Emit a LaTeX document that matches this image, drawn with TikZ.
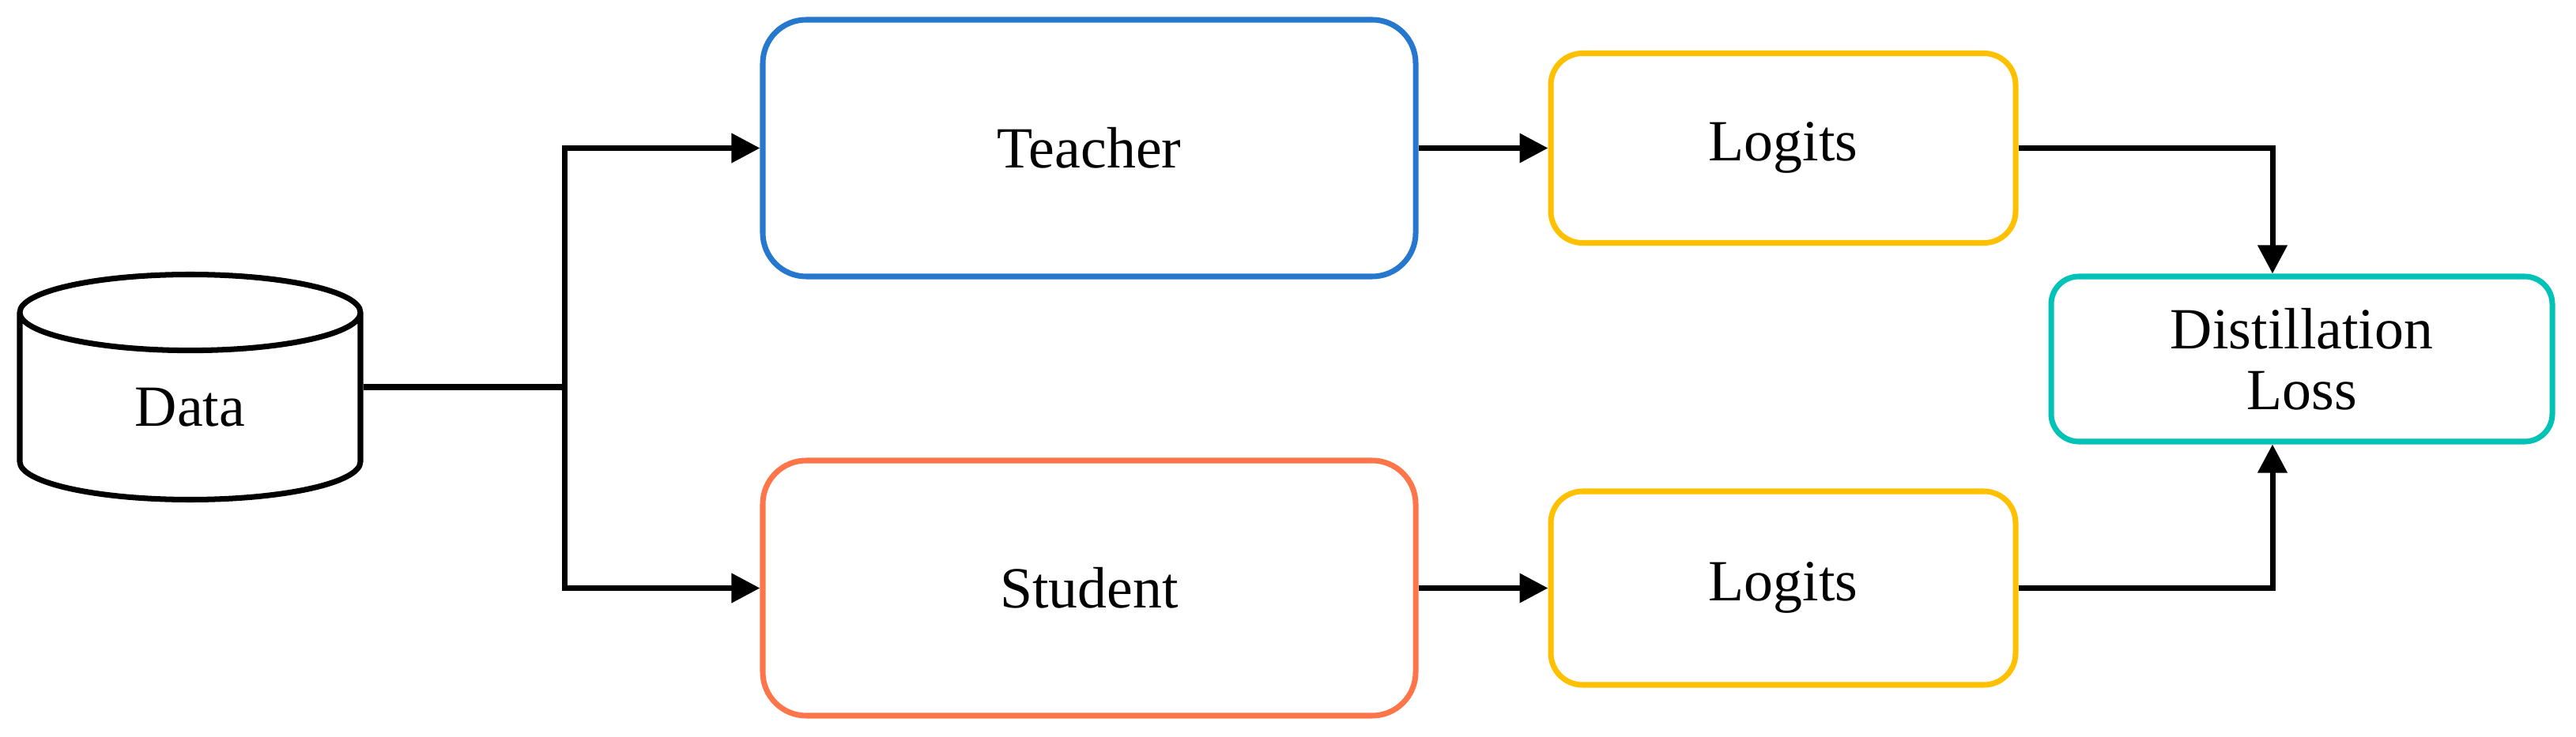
\documentclass[tikz,border=0pt]{standalone}
\usepackage{fontspec}
\setmainfont{Liberation Serif}
\newfontfamily\boxfont{Liberation Serif}
\usetikzlibrary{arrows.meta,positioning,shapes.geometric,calc}

\definecolor{teacherblue}{RGB}{38,119,206}
\definecolor{studentred}{RGB}{255,117,74}
\definecolor{logitsgold}{RGB}{255,192,0}
\definecolor{lossteal}{RGB}{0,194,182}

\tikzset{
	box/.style={draw, line width=2pt, fill=white, align=center},
	conn/.style={line width=2pt, -{Triangle[length=0.36cm,width=0.36cm]}},
	link/.style={line width=2pt},
}

\begin{document}
\begin{tikzpicture}[every node/.style={font=\boxfont\fontsize{21}{22}\selectfont}]
				\useasboundingbox (0,0) rectangle (32.59,9.32);
				\node[draw, line width=2pt, cylinder, shape border rotate=90, aspect=0.69, minimum width=4.31cm, minimum height=2.85cm, inner sep=0pt, anchor=shape center] (data) at (2.405,4.42) {Data};
				\node[box, draw=teacherblue, rounded corners=0.55cm, minimum width=8.26cm, minimum height=3.25cm] (teacher) at (13.78,7.445) {Teacher};
				\node[box, draw=studentred, rounded corners=0.55cm, minimum width=8.26cm, minimum height=3.23cm] (student) at (13.78,1.875) {Student};
				\node[box, draw=logitsgold, rounded corners=0.4cm, minimum width=5.88cm, minimum height=2.4cm] (logitsT) at (22.56,7.445) {Logits};
				\node[box, draw=logitsgold, rounded corners=0.4cm, minimum width=5.88cm, minimum height=2.45cm] (logitsS) at (22.56,1.875) {Logits};
				\node[box, draw=lossteal, rounded corners=0.35cm, minimum width=6.34cm, minimum height=2.09cm] (loss) at (29.12,4.775) {Distillation\\Loss};
				\coordinate[right=2.55cm of data.east |- data.shape center] (split);
				\draw[link] (data.east |- data.shape center) -- (split);
				\draw[conn] (split) |- (teacher.west);
				\draw[conn] (split) |- (student.west);
				\draw[conn] (teacher.east) -- (logitsT.west);
				\draw[conn] (student.east) -- (logitsS.west);
				\draw[conn] (logitsT.east) -| ([xshift=-0.37cm]loss.north);
				\draw[conn] (logitsS.east) -| ([xshift=-0.37cm]loss.south);
			\end{tikzpicture}
\end{document}
